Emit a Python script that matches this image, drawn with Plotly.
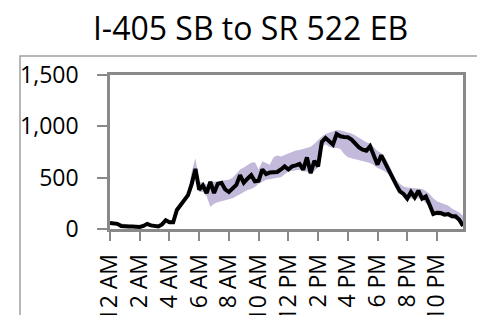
import plotly.graph_objects as go

title = "I-405 SB to SR 522 EB"
idx = list(range(96))
tick_vals = [0, 8, 16, 24, 32, 40, 48, 56, 64, 72, 80, 88]
tick_text = ["12 AM", "2 AM", "4 AM", "6 AM", "8 AM", "10 AM",
             "12 PM", "2 PM", "4 PM", "6 PM", "8 PM", "10 PM"]
y_ticks = [0, 500, 1000, 1500]
y_text = ["0", "500", "1,000", "1,500"]

line_vals = [58, 55, 50, 30, 25, 25, 25, 25, 20, 30, 50, 35, 25, 25, 45, 85,
             65, 65, 185, 230, 270, 330, 440, 585, 383, 425, 350, 458, 350, 440, 450, 385,
             360, 395, 430, 525, 450, 490, 525, 465, 470, 580, 535, 550, 555, 555, 580, 610,
             580, 610, 620, 633, 578, 698, 545, 665, 610, 848, 886, 848, 823, 925, 903, 896,
             893, 870, 828, 795, 773, 763, 805, 718, 627, 718, 643, 578, 513, 432, 367, 341,
             296, 360, 308, 373, 296, 318, 237, 146, 159, 156, 140, 146, 124, 124, 91, 30]

upper_vals = [70, 65, 60, 50, 45, 45, 40, 40, 35, 40, 55, 50, 40, 45, 70, 95,
              85, 90, 200, 250, 290, 370, 560, 690, 460, 450, 430, 470, 460, 465, 470, 475,
              480, 500, 540, 580, 600, 620, 645, 650, 580, 660, 645, 625, 700, 715, 705, 720,
              740, 755, 765, 770, 780, 790, 800, 830, 870, 900, 925, 940, 955, 965, 960, 950,
              945, 930, 910, 890, 865, 845, 835, 800, 760, 740, 700, 630, 560, 480, 440, 415,
              405, 400, 395, 395, 390, 370, 340, 300, 270, 255, 240, 230, 200, 180, 160, 130]

lower_vals = [40, 40, 35, 20, 15, 15, 15, 15, 10, 20, 35, 25, 15, 15, 35, 70,
              55, 55, 160, 210, 250, 310, 400, 520, 360, 360, 320, 215, 245, 260, 270, 280,
              290, 300, 320, 340, 360, 380, 390, 410, 440, 460, 480, 485, 495, 500, 505, 530,
              560, 565, 570, 578, 560, 560, 530, 570, 600, 800, 825, 800, 790, 790, 780, 730,
              698, 690, 680, 675, 665, 655, 643, 620, 595, 580, 560, 530, 470, 400, 350, 320,
              290, 300, 290, 300, 290, 250, 210, 170, 135, 130, 125, 120, 105, 95, 80, 20]

band_color = "#c3b9da"
axis_color = "#898989"
font_family = "Open Sans"

fig = go.Figure()
fig.add_trace(go.Scatter(x=idx, y=lower_vals, mode="lines", line=dict(width=0),
                         hoverinfo="skip", showlegend=False))
fig.add_trace(go.Scatter(x=idx, y=upper_vals, mode="lines", line=dict(width=0),
                         fill="tonexty", fillcolor=band_color, showlegend=False))
fig.add_trace(go.Scatter(x=idx, y=line_vals, mode="lines",
                         line=dict(color="black", width=4), showlegend=False))

W, H = 485, 315
L, R, T, B = 102, 30, 67, 94
pw, ph = W - L - R, H - T - B

def px_x(p):
    return (p - L) / pw

def px_y(p):
    return (H - B - p) / ph

fig.add_shape(type="rect", xref="paper", yref="paper",
              x0=px_x(12), x1=px_x(470), y0=px_y(340), y1=px_y(48),
              line=dict(color="#a0a0a0", width=1.5), layer="below")

fig.update_layout(
    width=W, height=H,
    margin=dict(l=L, r=R, t=T, b=B),
    paper_bgcolor="white", plot_bgcolor="white",
    title=dict(text=title, x=0.5, xanchor="center", y=1 - 21 / H, yanchor="middle",
               font=dict(family=font_family, size=32, color="black")),
    font=dict(family=font_family, color="black"),
)
fig.update_xaxes(range=[0, 95], tickmode="array", tickvals=tick_vals, ticktext=tick_text,
                 tickangle=-90, ticks="outside", ticklen=9, tickcolor=axis_color, tickwidth=1.5,
                 showline=True, linecolor=axis_color, linewidth=2.5, mirror=True,
                 showgrid=False, zeroline=False, automargin=False,
                 tickfont=dict(family=font_family, size=23, color="black"),
                 ticklabelstandoff=4)
fig.update_yaxes(range=[0, 1500], tickmode="array", tickvals=y_ticks, ticktext=y_text,
                 ticks="outside", ticklen=10, tickcolor=axis_color, tickwidth=1.5,
                 showline=True, linecolor=axis_color, linewidth=2.5, mirror=True,
                 showgrid=False, zeroline=False, automargin=False,
                 tickfont=dict(family=font_family, size=23, color="black"),
                 ticklabelstandoff=14)

fig.write_html("out.html")
